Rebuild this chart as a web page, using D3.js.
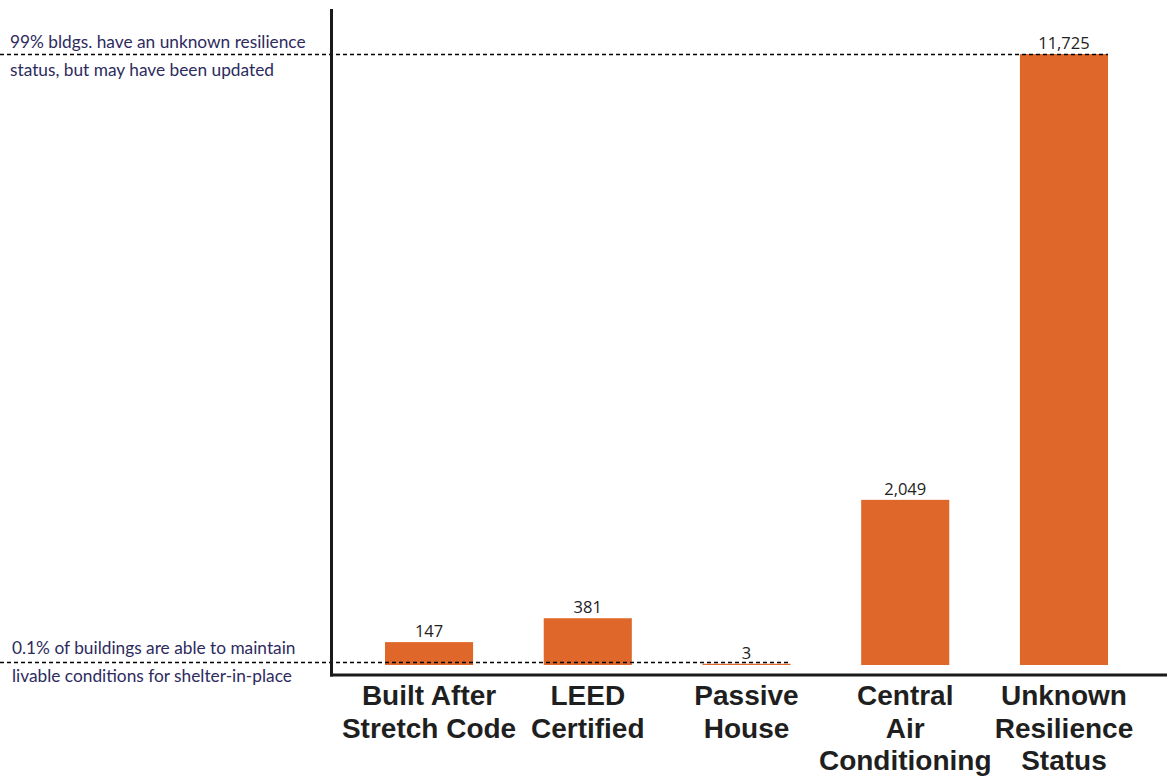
<!DOCTYPE html>
<html>
<head>
<meta charset="utf-8">
<script src="https://cdn.jsdelivr.net/npm/d3@7"></script>
<style>
  html, body { margin: 0; padding: 0; background: #ffffff; }
  svg { display: block; }
</style>
</head>
<body>
<svg id="chart" width="1167" height="777"></svg>
<script>
// Building resilience categories and counts
const categories = [
  ["Built After", "Stretch Code"],
  ["LEED", "Certified"],
  ["Passive", "House"],
  ["Central", "Air", "Conditioning"],
  ["Unknown", "Resilience", "Status"]
];
const counts = [147, 381, 3, 2049, 11725];
const valueLabels = ["147", "381", "3", "2,049", "11,725"];

// Reference lines: the share of resilient buildings vs. unknown status
const noteTop = ["99% bldgs. have an unknown resilience", "status, but may have been updated"];
const noteBottom = ["0.1% of buildings are able to maintain", "livable conditions for shelter-in-place"];

const svg = d3.select("#chart");
const W = 1167, H = 777;

const axisX = 331.5, axisTop = 9, axisY = 675;
const plotLeft = 385, plotRight = 1108;
const baseY = 665, topY = 54;

const keys = categories.map(c => c.join(" "));

const x = d3.scaleBand()
  .domain(keys)
  .range([plotLeft, plotRight])
  .paddingInner(0.445)
  .paddingOuter(0);

// Compressed value scale so the small counts stay visible next to the largest one
const y = d3.scalePow()
  .exponent(0.75)
  .domain([0, d3.max(counts)])
  .range([baseY, topY]);

const barColor = "#e0672a";
const noteColor = "#2d2b5e";

// Bars
svg.append("g").selectAll("rect")
  .data(counts)
  .join("rect")
  .attr("x", (d, i) => x(keys[i]))
  .attr("width", x.bandwidth())
  .attr("y", d => y(d))
  .attr("height", d => baseY - y(d))
  .attr("fill", barColor);

// Value labels above bars
svg.append("g").selectAll("text")
  .data(counts)
  .join("text")
  .attr("x", (d, i) => x(keys[i]) + x.bandwidth() / 2)
  .attr("y", d => y(d) - 5)
  .attr("text-anchor", "middle")
  .attr("font-family", "'Open Sans', sans-serif")
  .attr("font-size", 16.5)
  .attr("fill", "#222")
  .text((d, i) => valueLabels[i]);

// Dashed reference lines at the largest and smallest bar tops
const maxIdx = counts.indexOf(d3.max(counts));
const minIdx = counts.indexOf(d3.min(counts));
svg.append("line")
  .attr("x1", 0).attr("x2", x(keys[maxIdx]) + x.bandwidth())
  .attr("y1", y(counts[maxIdx]) + 0.5).attr("y2", y(counts[maxIdx]) + 0.5)
  .attr("stroke", "#000").attr("stroke-width", 1.4)
  .attr("stroke-dasharray", "4,3");
svg.append("line")
  .attr("x1", 0).attr("x2", x(keys[minIdx]) + x.bandwidth())
  .attr("y1", baseY - 2.5).attr("y2", baseY - 2.5)
  .attr("stroke", "#000").attr("stroke-width", 1.4)
  .attr("stroke-dasharray", "4,3");

// Axes lines
svg.append("line")
  .attr("x1", axisX).attr("x2", axisX)
  .attr("y1", axisTop).attr("y2", axisY + 1.5)
  .attr("stroke", "#1a1a1a").attr("stroke-width", 3);
svg.append("line")
  .attr("x1", axisX - 1.5).attr("x2", W)
  .attr("y1", axisY).attr("y2", axisY)
  .attr("stroke", "#1a1a1a").attr("stroke-width", 3);

// Category labels
const catG = svg.append("g");
categories.forEach((lines, i) => {
  const t = catG.append("text")
    .attr("x", x(keys[i]) + x.bandwidth() / 2)
    .attr("y", 705)
    .attr("text-anchor", "middle")
    .attr("font-family", "'Liberation Sans', Arial, sans-serif")
    .attr("font-weight", "bold")
    .attr("font-size", 28)
    .attr("fill", "#1f1f1f");
  lines.forEach((ln, j) => {
    t.append("tspan")
      .attr("x", x(keys[i]) + x.bandwidth() / 2)
      .attr("dy", j === 0 ? 0 : 32.5)
      .text(ln);
  });
});

// Annotation notes at the left
function note(lines, x0, y0) {
  const t = svg.append("text")
    .attr("x", x0).attr("y", y0)
    .attr("font-family", "Lato, sans-serif")
    .attr("font-size", 17.3)
    .attr("fill", noteColor);
  lines.forEach((ln, j) => {
    t.append("tspan").attr("x", x0).attr("dy", j === 0 ? 0 : 28).text(ln);
  });
}
note(noteTop, 10, 48);
note(noteBottom, 12, 654);
</script>
</body>
</html>
